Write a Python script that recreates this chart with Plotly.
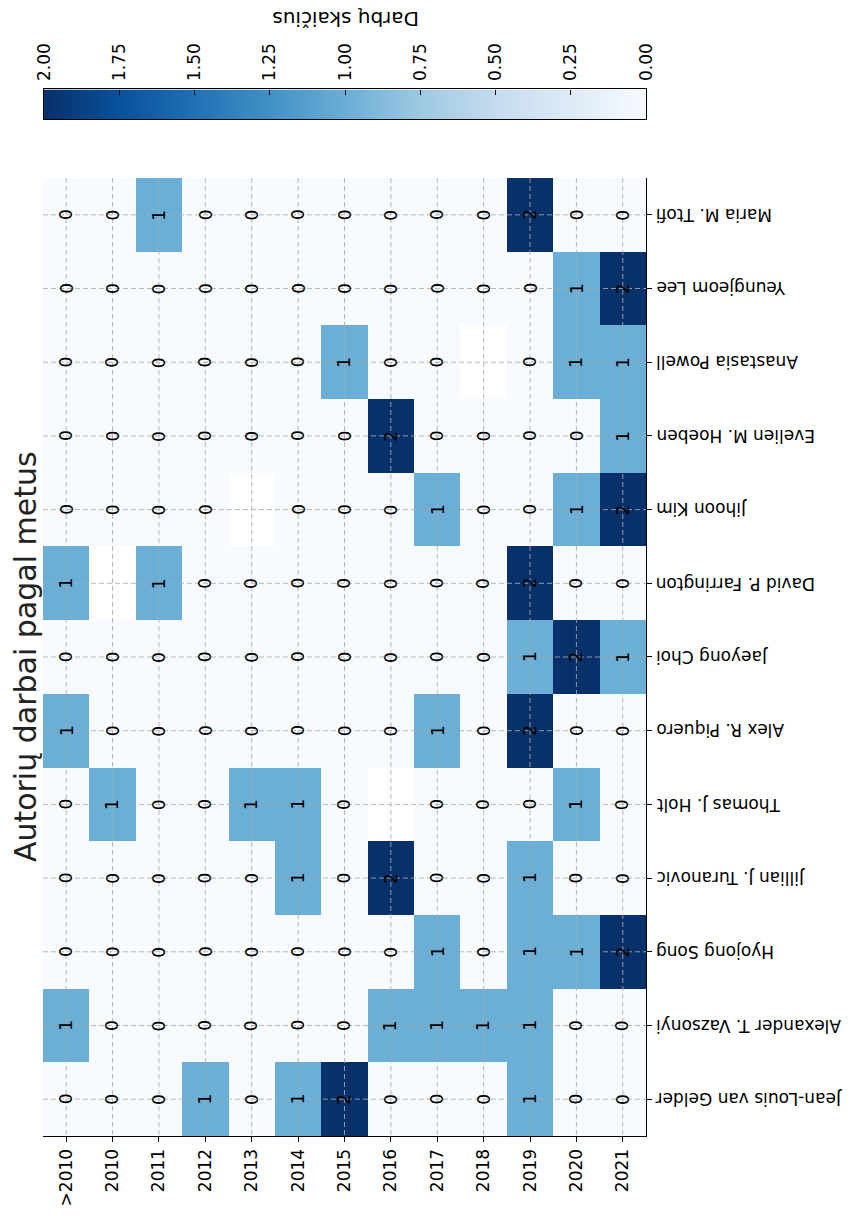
import plotly.graph_objects as go
import plotly.express as px

years = [">2010", "2010", "2011", "2012", "2013", "2014", "2015",
         "2016", "2017", "2018", "2019", "2020", "2021"]

authors = ["Maria M. Ttofi", "Yeungjeom Lee", "Anastasia Powell",
           "Evelien M. Hoeben", "Jihoon Kim", "David P. Farrington",
           "Jaeyong Choi", "Alex R. Piquero", "Thomas J. Holt",
           "Jillian J. Turanovic", "Hyojong Song", "Alexander T. Vazsonyi",
           "Jean-Louis van Gelder"]

N = None
maria      = [0, 0, 1, 0, 0, 0, 0, 0, 0, 0, 2, 0, 0]
yeungjeom  = [0, 0, 0, 0, 0, 0, 0, 0, 0, 0, 0, 1, 2]
anastasia  = [0, 0, 0, 0, 0, 0, 1, 0, 0, N, 0, 1, 1]
evelien    = [0, 0, 0, 0, 0, 0, 0, 2, 0, 0, 0, 0, 1]
jihoon     = [0, 0, 0, 0, N, 0, 0, 0, 1, 0, 0, 1, 2]
david      = [1, N, 1, 0, 0, 0, 0, 0, 0, 0, 2, 0, 0]
jaeyong    = [0, 0, 0, 0, 0, 0, 0, 0, 0, 0, 1, 2, 1]
alex       = [1, 0, 0, 0, 0, 0, 0, 0, 1, 0, 2, 0, 0]
thomas     = [0, 1, 0, 0, 1, 1, 0, N, 0, 0, 0, 1, 0]
jillian    = [0, 0, 0, 0, 0, 1, 0, 2, 0, 0, 1, 0, 0]
hyojong    = [0, 0, 0, 0, 0, 0, 0, 0, 1, 0, 1, 1, 2]
alexander  = [1, 0, 0, 0, 0, 0, 0, 1, 1, 1, 1, 0, 0]
jeanlouis  = [0, 0, 0, 1, 0, 1, 2, 0, 0, 0, 1, 0, 0]

counts = [maria, yeungjeom, anastasia, evelien, jihoon, david, jaeyong,
          alex, thomas, jillian, hyojong, alexander, jeanlouis]

cbar_ticks = [0.0, 0.25, 0.5, 0.75, 1.0, 1.25, 1.5, 1.75, 2.0]

title_text = "Autorių darbai pagal metus"
cbar_title = "Darbų skaičius"

FONT = "DejaVu Sans"
blues = px.colors.sequential.Blues
xi = list(range(len(years)))
yi = list(range(len(authors)))

MAIN_TOP = 0.8508
fig = go.Figure()

fig.add_trace(go.Heatmap(
    z=counts, x=xi, y=yi, colorscale=blues, zmin=0, zmax=2,
    showscale=False, hoverinfo="skip"))

# colour bar drawn as a ramp on its own axes
fig.add_trace(go.Heatmap(
    z=[cbar_ticks], x=cbar_ticks, y=[0], colorscale=blues, zmin=0, zmax=2,
    zsmooth="best", showscale=False, hoverinfo="skip",
    xaxis="x2", yaxis="y2"))

grid_line = dict(color="rgba(170,170,170,0.85)", width=1, dash="5px,3px")
shapes = []
for i in xi:
    shapes.append(dict(type="line", xref="x", yref="y", x0=i, x1=i,
                       y0=-0.5, y1=len(authors) - 0.5, layer="above",
                       line=grid_line))
for j in yi:
    shapes.append(dict(type="line", xref="x", yref="y", y0=j, y1=j,
                       x0=-0.5, x1=len(years) - 0.5, layer="above",
                       line=grid_line))

annotations = []
for j, row in enumerate(counts):
    for i, v in enumerate(row):
        if v is None:
            continue
        annotations.append(dict(x=i, y=j, xref="x", yref="y", text=str(v),
                                showarrow=False, textangle=-90,
                                font=dict(family=FONT, size=17, color="black")))
for j, name in enumerate(authors):
    annotations.append(dict(x=1, y=j, xref="paper", yref="y", text=name,
                            showarrow=False, textangle=180, xanchor="left",
                            xshift=8,
                            font=dict(family=FONT, size=17, color="black")))
annotations.append(dict(x=-0.028, y=MAIN_TOP / 2, xref="paper", yref="paper",
                        text=title_text, showarrow=False, textangle=-90,
                        xanchor="center", yanchor="middle",
                        font=dict(family=FONT, size=30, color="#222222")))
annotations.append(dict(x=0.5025, y=0.992, xref="paper", yref="paper",
                        text=cbar_title, showarrow=False, textangle=180,
                        xanchor="center", yanchor="middle",
                        font=dict(family=FONT, size=20, color="black")))

fig.update_layout(
    width=854, height=1216,
    margin=dict(l=43, r=208, t=10, b=73),
    paper_bgcolor="white", plot_bgcolor="white",
    font=dict(family=FONT, color="black"),
    xaxis=dict(domain=[0, 1], range=[-0.5, len(years) - 0.5],
               tickvals=xi, ticktext=years, tickangle=-90,
               ticks="outside", ticklen=5, tickcolor="black",
               showline=True, linecolor="black", linewidth=1.2,
               showgrid=False, zeroline=False, anchor="y",
               tickfont=dict(family=FONT, size=17, color="black")),
    yaxis=dict(domain=[0, MAIN_TOP], range=[len(authors) - 0.5, -0.5],
               tickvals=yi, showticklabels=False, side="right",
               ticks="outside", ticklen=5, tickcolor="black",
               showline=True, linecolor="black", linewidth=1.2,
               showgrid=False, zeroline=False, anchor="x"),
    xaxis2=dict(domain=[0.0017, 1], range=[2, 0], anchor="y2", side="top",
                tickvals=cbar_ticks, ticktext=[f"{t:.2f}" for t in cbar_ticks],
                tickangle=-90, ticks="inside", ticklen=5, tickcolor="black",
                ticklabelstandoff=4,
                showline=True, mirror=True, linecolor="black", linewidth=1.2,
                showgrid=False, zeroline=False,
                tickfont=dict(family=FONT, size=17, color="black")),
    yaxis2=dict(domain=[0.9029, 0.9294], range=[-0.5, 0.5], anchor="x2",
                showticklabels=False, ticks="", showline=True, mirror=True,
                linecolor="black", linewidth=1.2, showgrid=False, zeroline=False),
    shapes=shapes, annotations=annotations,
)

fig.write_html("out.html",
               config={"displayModeBar": False},
               post_script="document.body.style.margin='0';document.body.style.padding='0';")
